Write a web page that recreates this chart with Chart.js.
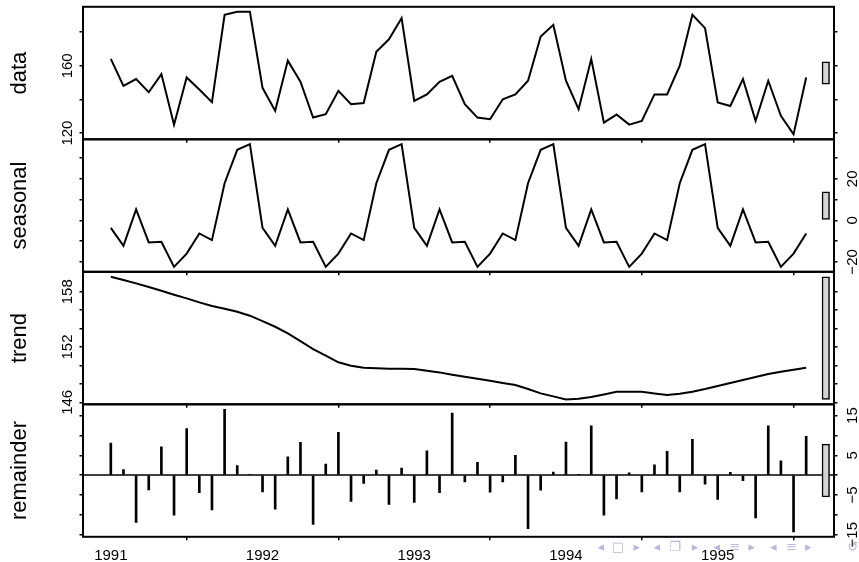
<!DOCTYPE html>
<html>
<head>
<meta charset="utf-8">
<script src="https://cdn.jsdelivr.net/npm/chart.js@4.4.1/dist/chart.umd.min.js"></script>
<style>
html,body{margin:0;padding:0;background:#fff;}
#wrap{position:relative;width:859px;height:562px;overflow:hidden;background:#fff;}
#wrap canvas{position:absolute;left:0;top:0;}
</style>
</head>
<body>
<div id="wrap">
<canvas id="c0" width="859" height="562"></canvas>
<canvas id="c1" width="859" height="562"></canvas>
<canvas id="c2" width="859" height="562"></canvas>
<canvas id="c3" width="859" height="562"></canvas>
</div>
<script>
// ---- time series definition (monthly, Jan 1991 - Aug 1995) ----
const startYear = 1991;
const frequency = 12;
const yearTicks = [1991, 1992, 1993, 1994, 1995];

// ---- STL components ----
const dataValues = [
  164.1, 148.1, 152.1, 144.3, 155.1, 125.0, 153.1, 145.9, 138.4, 190.4, 192.2, 192.2,
  146.9, 133.2, 163.1, 150.5, 129.2, 131.2, 145.1, 137.2, 137.9, 168.4, 175.8, 188.4,
  139.1, 143.0, 150.5, 154.1, 137.2, 129.2, 128.2, 140.1, 143.0, 151.1, 177.4, 184.4,
  151.1, 134.2, 164.1, 126.2, 131.0, 125.0, 127.2, 143.0, 143.0, 160.1, 190.4, 182.4,
  138.2, 136.1, 152.1, 127.2, 151.1, 130.2, 119.2, 153.1
];
const seasonalValues = [
  -3.6, -12.3, 5.3, -10.6, -10.3, -22.4, -16.0, -6.3, -9.5, 17.9, 34.0, 36.7,
  -3.6, -12.3, 5.3, -10.6, -10.3, -22.4, -16.0, -6.3, -9.5, 17.9, 34.0, 36.7,
  -3.6, -12.3, 5.3, -10.6, -10.3, -22.4, -16.0, -6.3, -9.5, 17.9, 34.0, 36.7,
  -3.6, -12.3, 5.3, -10.6, -10.3, -22.4, -16.0, -6.3, -9.5, 17.9, 34.0, 36.7,
  -3.6, -12.3, 5.3, -10.6, -10.3, -22.4, -16.0, -6.3
];
const trendValues = [
  159.63, 159.27, 158.91, 158.51, 158.11, 157.68, 157.28, 156.85, 156.45, 156.16, 155.83, 155.40,
  154.82, 154.20, 153.48, 152.65, 151.78, 151.06, 150.34, 149.97, 149.76, 149.69, 149.65, 149.65,
  149.61, 149.44, 149.25, 149.00, 148.78, 148.56, 148.35, 148.09, 147.88, 147.44, 146.97, 146.65,
  146.32, 146.39, 146.57, 146.86, 147.15, 147.15, 147.15, 146.97, 146.79, 146.94, 147.15, 147.44,
  147.77, 148.09, 148.42, 148.74, 149.07, 149.32, 149.54, 149.76
];
const remainderValues = [
  8.1, 1.4, -11.9, -3.75, 7.1, -10.1, 11.75, -4.4, -8.75, 16.6, 2.4, 0.2,
  -4.25, -8.6, 4.6, 8.25, -12.4, 2.75, 10.75, -6.6, -2.1, 1.25, -7.4, 1.75,
  -6.9, 6.1, -4.4, 15.6, -1.7, 3.25, -4.3, -1.7, 5.0, -13.5, -3.8, 0.75,
  8.3, 0.1, 12.4, -10.1, -6.0, 0.6, -4.25, 2.6, 6.0, -4.25, 9.0, -2.25,
  -6.1, 0.7, -1.4, -10.75, 12.4, 3.6, -14.3, 9.75
];

// ---- axis ticks and tick labels ----
const panelTitles = ['data', 'seasonal', 'trend', 'remainder'];
const dataTicks = [120, 140, 160, 180];
const dataTickLabels = [120, 160];
const seasonalTicks = [-20, -10, 0, 10, 20, 30];
const seasonalTickLabels = [-20, 0, 20];
const trendTicks = [146, 148, 150, 152, 154, 156, 158];
const trendTickLabels = [146, 152, 158];
const remainderTicks = [-15, -10, -5, 0, 5, 10, 15];
const remainderTickLabels = [-15, -5, 5, 15];

// ---- layout ----
const W = 859, H = 562;
const PANEL_TOP = 6.8, PANEL_H = 132.5;
const LEFT_W = 83, RIGHT_W = 25, X_H = 20;
const FONT = "'Liberation Sans', Arial, Helvetica, sans-serif";

function fmt(v) { return v < 0 ? '\u2212' + Math.abs(v) : String(v); }

function rotText(ctx, text, x, y) {
  ctx.save();
  ctx.translate(x, y);
  ctx.rotate(-Math.PI / 2);
  ctx.fillText(text, 0, 0);
  ctx.restore();
}

const stlPanelPlugin = {
  id: 'stlPanel',
  beforeDatasetsDraw(chart, args, opts) {
    if (opts.zeroLine) {
      const ctx = chart.ctx, a = chart.chartArea;
      const y = chart.scales.y.getPixelForValue(0);
      ctx.save();
      ctx.strokeStyle = '#000';
      ctx.lineWidth = 1.5;
      ctx.beginPath();
      ctx.moveTo(a.left, y);
      ctx.lineTo(a.right, y);
      ctx.stroke();
      ctx.restore();
    }
  },
  afterDraw(chart, args, opts) {
    const ctx = chart.ctx, a = chart.chartArea;
    ctx.save();
    ctx.strokeStyle = '#000';
    ctx.lineWidth = 2;
    ctx.strokeRect(a.left, a.top, a.right - a.left, a.bottom - a.top);
    ctx.fillStyle = '#000';
    ctx.textAlign = 'center';
    ctx.textBaseline = 'alphabetic';
    ctx.font = '22px ' + FONT;
    rotText(ctx, opts.title, 25.5, (a.top + a.bottom) / 2);
    ctx.font = '15px ' + FONT;
    const ys = chart.scales.y;
    const bx = opts.labelSide === 'left' ? a.left - 11 : a.right + 22.5;
    opts.labels.forEach(v => rotText(ctx, fmt(v), bx, ys.getPixelForValue(v)));
    if (opts.xLabels) {
      const xs = chart.scales.x;
      opts.xLabels.forEach(v => ctx.fillText(String(v), xs.getPixelForValue(v), a.bottom + 23.2));
      // presentation navigation symbols (beamer)
      ctx.fillStyle = 'rgba(170,170,215,0.85)';
      ctx.font = '13px "DejaVu Sans", sans-serif';
      ctx.textBaseline = 'middle';
      const nav = [['\u25C2', 600.7], ['\u25A1', 618], ['\u25B8', 636.7], ['\u25C2', 656.7], ['\u2750', 675],
                   ['\u25B8', 695], ['\u25C2', 716.7], ['\u2261', 735], ['\u25B8', 751.7], ['\u25C2', 773.3],
                   ['\u2261', 791.7], ['\u25B8', 808.3], ['\u21BA', 853]];
      nav.forEach(([s, x]) => ctx.fillText(s, x, 547.5));
    }
    ctx.restore();
  }
};

const allRanges = [dataValues, seasonalValues, trendValues, remainderValues]
  .map(v => Math.max(...v) - Math.min(...v));
const rangeBarSize = Math.min(...allRanges);

function makePanel(k, values, ticks, tickLabels, labelSide, isRemainder, isLast) {
  const n = values.length;
  const time = values.map((_, i) => startYear + i / frequency);
  const tSpan = time[n - 1] - time[0];
  const xMin = time[0] - 0.04 * tSpan, xMax = time[n - 1] + 0.04 * tSpan;
  const vMin = Math.min(...values), vMax = Math.max(...values);
  const vSpan = vMax - vMin;
  const yMin = vMin - 0.04 * vSpan, yMax = vMax + 0.04 * vSpan;
  const dx = (xMax - xMin) / 64;
  const center = (vMin + vMax) / 2;
  const top = PANEL_TOP + k * PANEL_H;
  const bottom = top + PANEL_H;

  const series = values.map((v, i) => ({ x: time[i], y: v }));
  const datasets = [];
  if (isRemainder) {
    datasets.push({
      type: 'bar', data: series, backgroundColor: '#000', borderWidth: 0,
      barThickness: 2, grouped: false, order: 2
    });
  } else {
    datasets.push({
      type: 'line', data: series, borderColor: '#000', borderWidth: 2,
      pointRadius: 0, tension: 0, fill: false, order: 1
    });
  }
  datasets.push({
    type: 'bar',
    data: [{ x: xMax - 0.7 * dx, y: [center - rangeBarSize / 2, center + rangeBarSize / 2] }],
    backgroundColor: '#d3d3d3', borderColor: '#000', borderWidth: 1.5,
    borderSkipped: false, barThickness: 7.5, grouped: false, order: 0
  });

  const yAxis = (pos) => ({
    type: 'linear', position: pos, min: yMin, max: yMax,
    afterBuildTicks: s => { s.ticks = ticks.map(v => ({ value: v })); },
    afterFit: s => { s.width = pos === 'left' ? LEFT_W : RIGHT_W; },
    ticks: { display: false },
    grid: { drawOnChartArea: false, drawTicks: true, tickLength: 3.5, color: '#000', lineWidth: 1.5 },
    border: { display: false }
  });

  new Chart(document.getElementById('c' + k), {
    type: 'line',
    data: { datasets },
    plugins: [stlPanelPlugin],
    options: {
      responsive: false, animation: false, devicePixelRatio: 1, events: [],
      layout: { padding: { left: 0, right: 0, top: top, bottom: H - bottom - X_H } },
      plugins: {
        legend: { display: false }, tooltip: { enabled: false },
        stlPanel: {
          title: panelTitles[k], labels: tickLabels, labelSide: labelSide,
          zeroLine: isRemainder, xLabels: isLast ? yearTicks : null
        }
      },
      scales: {
        x: {
          type: 'linear', position: 'bottom', min: xMin, max: xMax, offset: false,
          afterBuildTicks: s => { s.ticks = yearTicks.map(v => ({ value: v })); },
          afterFit: s => { s.height = X_H; },
          ticks: { display: false },
          grid: { drawOnChartArea: false, drawTicks: true, tickLength: 3.5, color: '#000', lineWidth: 1.5 },
          border: { display: false }
        },
        y: yAxis('left'),
        y2: yAxis('right')
      }
    }
  });
}

makePanel(0, dataValues, dataTicks, dataTickLabels, 'left', false, false);
makePanel(1, seasonalValues, seasonalTicks, seasonalTickLabels, 'right', false, false);
makePanel(2, trendValues, trendTicks, trendTickLabels, 'left', false, false);
makePanel(3, remainderValues, remainderTicks, remainderTickLabels, 'right', true, true);
</script>
</body>
</html>
